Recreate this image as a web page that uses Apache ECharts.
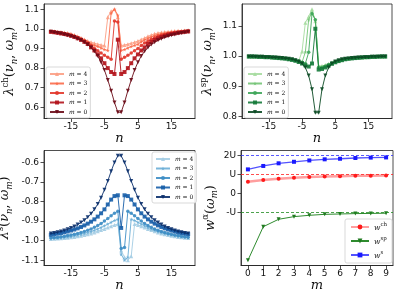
<!DOCTYPE html>
<html><head><meta charset="utf-8">
<script src="https://cdn.jsdelivr.net/npm/echarts@6/dist/echarts.min.js"></script>
<style>html,body{margin:0;padding:0;background:#fff}#c{width:398px;height:294px}</style>
</head><body><div id="c"></div>
<script>
// ---------- data ----------
const nValues = [-21,-20,-19,-18,-17,-16,-15,-14,-13,-12,-11,-10,-9,-8,-7,-6,-5,-4,-3,-2,-1,0,1,2,3,4,5,6,7,8,9,10,11,12,13,14,15,16,17,18,19,20];
const nTicks = [-15,-5,5,15];
const mLabels = ['4','3','2','1','0'];

const ch0 = [0.985,0.982,0.979,0.976,0.972,0.968,0.963,0.957,0.95,0.942,0.932,0.92,0.905,0.886,0.862,0.83,0.79,0.74,0.685,0.625,0.575,0.575,0.625,0.685,0.74,0.79,0.83,0.862,0.886,0.905,0.92,0.932,0.942,0.95,0.957,0.963,0.968,0.972,0.976,0.979,0.982,0.985];
const ch1 = [0.985,0.983,0.98,0.977,0.974,0.97,0.965,0.959,0.952,0.944,0.934,0.923,0.906,0.89,0.87,0.85,0.825,0.80,0.78,0.77,0.945,0.77,0.78,0.80,0.825,0.85,0.87,0.89,0.906,0.923,0.934,0.944,0.952,0.959,0.965,0.97,0.974,0.977,0.98,0.983,0.985,0.987];
const ch2 = [0.986,0.984,0.982,0.979,0.976,0.972,0.968,0.962,0.955,0.947,0.938,0.928,0.915,0.9,0.889,0.877,0.865,0.855,0.845,1.04,1.035,0.845,0.855,0.865,0.877,0.889,0.9,0.915,0.928,0.938,0.947,0.955,0.962,0.968,0.972,0.976,0.979,0.982,0.984,0.986,0.988,0.989];
const ch3 = [0.987,0.985,0.983,0.981,0.978,0.975,0.971,0.966,0.959,0.952,0.944,0.934,0.922,0.916,0.91,0.903,0.895,0.89,1.08,1.10,1.07,0.89,0.895,0.903,0.91,0.916,0.922,0.934,0.944,0.952,0.959,0.966,0.971,0.975,0.978,0.981,0.983,0.985,0.987,0.988,0.989,0.99];
const ch4 = [0.989,0.988,0.986,0.984,0.982,0.979,0.975,0.969,0.962,0.954,0.946,0.938,0.932,0.927,0.922,0.918,0.915,1.06,1.09,1.10,1.06,0.915,0.918,0.922,0.927,0.932,0.938,0.946,0.954,0.962,0.969,0.975,0.979,0.982,0.984,0.986,0.988,0.989,0.99,0.991,0.992,0.993];

const sp0 = [0.998,0.998,0.997,0.997,0.997,0.996,0.996,0.995,0.995,0.994,0.993,0.992,0.991,0.989,0.986,0.982,0.975,0.962,0.935,0.89,0.812,0.812,0.89,0.935,0.962,0.975,0.982,0.986,0.989,0.991,0.992,0.993,0.994,0.995,0.995,0.996,0.996,0.997,0.997,0.997,0.998,0.998];
const sp1 = [0.998,0.998,0.998,0.997,0.997,0.996,0.996,0.995,0.994,0.993,0.992,0.991,0.989,0.987,0.984,0.98,0.975,0.969,0.965,0.975,1.09,0.955,0.957,0.962,0.968,0.974,0.979,0.983,0.986,0.989,0.991,0.992,0.993,0.994,0.995,0.996,0.996,0.997,0.997,0.998,0.998,0.998];
const sp2 = [0.998,0.998,0.998,0.997,0.997,0.997,0.996,0.995,0.995,0.994,0.993,0.992,0.99,0.988,0.986,0.983,0.979,0.975,1.012,1.14,1.12,0.962,0.962,0.966,0.971,0.976,0.98,0.984,0.987,0.989,0.991,0.992,0.993,0.994,0.995,0.996,0.996,0.997,0.997,0.998,0.998,0.998];
const sp3 = [0.998,0.998,0.998,0.998,0.997,0.997,0.996,0.996,0.995,0.994,0.993,0.992,0.99,0.988,0.986,0.983,0.979,1.013,1.12,1.145,1.12,0.965,0.965,0.968,0.972,0.977,0.981,0.984,0.987,0.99,0.991,0.993,0.994,0.995,0.995,0.996,0.997,0.997,0.998,0.998,0.998,0.999];
const sp4 = [0.999,0.998,0.998,0.998,0.997,0.997,0.997,0.996,0.995,0.995,0.994,0.993,0.991,0.989,0.987,0.983,1.015,1.11,1.13,1.155,1.115,0.968,0.967,0.97,0.974,0.978,0.982,0.985,0.988,0.99,0.992,0.993,0.994,0.995,0.996,0.996,0.997,0.997,0.998,0.998,0.999,0.999];

const s0 = [-0.964,-0.961,-0.957,-0.953,-0.948,-0.942,-0.935,-0.927,-0.918,-0.907,-0.895,-0.88,-0.862,-0.84,-0.813,-0.78,-0.74,-0.695,-0.645,-0.60,-0.566,-0.566,-0.60,-0.645,-0.695,-0.74,-0.78,-0.813,-0.84,-0.862,-0.88,-0.895,-0.907,-0.918,-0.927,-0.935,-0.942,-0.948,-0.953,-0.957,-0.961,-0.964];
const s1 = [-0.97,-0.967,-0.964,-0.961,-0.957,-0.953,-0.948,-0.943,-0.937,-0.93,-0.922,-0.913,-0.903,-0.891,-0.877,-0.86,-0.84,-0.815,-0.79,-0.772,-0.768,-0.935,-0.768,-0.772,-0.79,-0.815,-0.84,-0.86,-0.877,-0.891,-0.903,-0.913,-0.922,-0.93,-0.937,-0.943,-0.948,-0.953,-0.957,-0.961,-0.964,-0.967];
const s2 = [-0.985,-0.984,-0.982,-0.98,-0.977,-0.974,-0.971,-0.967,-0.963,-0.958,-0.953,-0.947,-0.94,-0.932,-0.923,-0.912,-0.9,-0.887,-0.873,-0.86,-0.85,-1.04,-1.035,-0.85,-0.86,-0.873,-0.887,-0.9,-0.912,-0.923,-0.932,-0.94,-0.947,-0.953,-0.958,-0.963,-0.967,-0.971,-0.974,-0.977,-0.98,-0.982];
const s3 = [-0.989,-0.988,-0.987,-0.985,-0.983,-0.981,-0.978,-0.975,-0.971,-0.967,-0.963,-0.958,-0.953,-0.947,-0.94,-0.932,-0.924,-0.915,-0.906,-0.897,-0.89,-1.07,-1.10,-1.085,-0.89,-0.897,-0.906,-0.915,-0.924,-0.932,-0.94,-0.947,-0.953,-0.958,-0.963,-0.967,-0.971,-0.975,-0.978,-0.981,-0.983,-0.985];
const s4 = [-0.991,-0.99,-0.989,-0.988,-0.987,-0.985,-0.983,-0.981,-0.978,-0.975,-0.971,-0.967,-0.963,-0.958,-0.952,-0.946,-0.94,-0.933,-0.926,-0.92,-0.915,-1.05,-1.085,-1.10,-1.08,-0.915,-0.92,-0.926,-0.933,-0.94,-0.946,-0.952,-0.958,-0.963,-0.967,-0.971,-0.975,-0.978,-0.981,-0.983,-0.985,-0.987];

const chTicksY = [0.6,0.7,0.8,0.9,1.0,1.1];
const spTicksY = [0.8,0.9,1.0,1.1];
const sTicksY = [-1.1,-1.0,-0.9,-0.8,-0.7,-0.6];

const mValues = [0,1,2,3,4,5,6,7,8,9];
const wCh = [0.63,0.72,0.79,0.84,0.88,0.90,0.92,0.94,0.945,0.955];
const wSp = [-3.51,-1.74,-1.35,-1.21,-1.14,-1.09,-1.07,-1.05,-1.04,-1.03];
const wS  = [1.28,1.46,1.60,1.68,1.75,1.81,1.84,1.88,1.90,1.91];
const wTickValues = [-1,0,1,2];
const wTickLabels = ['-U','0','U','2U'];
const wRefCh = 1, wRefSp = -1, wRefS = 2;

// ---------- styling ----------
const AX = '#222';
const tickFont = {fontSize:9, color:'#111', fontFamily:'DejaVu Sans'};
const mathRich = {
  a:{fontFamily:'DejaVu Serif', fontStyle:'italic', fontSize:13, lineHeight:18, color:'#111', verticalAlign:'middle'},
  r:{fontFamily:'DejaVu Serif', fontSize:13, lineHeight:18, color:'#111', verticalAlign:'middle'},
  sup:{fontFamily:'DejaVu Serif', fontSize:8.5, lineHeight:11, color:'#111', verticalAlign:'top'},
  sub:{fontFamily:'DejaVu Serif', fontStyle:'italic', fontSize:8.5, lineHeight:11, color:'#111', verticalAlign:'bottom'}
};
const downTri = 'path://M0,0 L10,0 L5,10 Z';
const star = 'path://M5,0 L6.2,3.8 L10,3.8 L6.9,6.1 L8.1,10 L5,7.6 L1.9,10 L3.1,6.1 L0,3.8 L3.8,3.8 Z';
const symbols = ['triangle', star, 'circle', 'rect', downTri];
const redC = ['#fc9f84','#fb6a4a','#e2372b','#b3131b','#6a0a16'];
const greenC = ['#a6dca0','#74c476','#3fa65a','#157a3a','#0b4a23'];
const blueC = ['#a3cce3','#6baed6','#3d8dc4','#175ea8','#0a2f6b'];

const grids = [
  {left:44, top:4, width:151, height:114.5},
  {left:242, top:4, width:150, height:114.5},
  {left:44, top:150.5, width:151, height:115},
  {left:241, top:150.5, width:152, height:115}
].map(g => Object.assign(g, {show:true, borderColor:AX, borderWidth:0.8, containLabel:false, outerBoundsMode:'none'}));

function nAxis(gi){
  return {type:'value', gridIndex:gi, min:-23.05, max:22.05,
    axisLine:{show:true, onZero:false, lineStyle:{color:AX, width:0.8}},
    axisTick:{show:true, customValues:nTicks, length:3.5, lineStyle:{color:AX, width:0.8}},
    axisLabel:Object.assign({customValues:nTicks, margin:4}, tickFont),
    splitLine:{show:false},
    name:'n', nameLocation:'middle', nameGap:9,
    nameTextStyle:{fontFamily:'DejaVu Serif', fontStyle:'italic', fontSize:13, color:'#111'}};
}
function valAxis(gi, min, max, ticks, name, gap){
  return {type:'value', gridIndex:gi, min, max,
    axisLine:{show:true, onZero:false, lineStyle:{color:AX, width:0.8}},
    axisTick:{show:true, customValues:ticks, length:3.5, lineStyle:{color:AX, width:0.8}},
    axisLabel:Object.assign({customValues:ticks, margin:5, formatter:v=>v.toFixed(1)}, tickFont),
    splitLine:{show:false},
    name, nameLocation:'middle', nameRotate:90, nameGap:gap,
    nameTextStyle:{rich:mathRich}};
}
function lamSeries(prefix, arrs, colors, gi){
  return arrs.map((arr, j) => ({
    type:'line', name:prefix + mLabels[j], xAxisIndex:gi, yAxisIndex:gi,
    data:nValues.map((n,i)=>[n, arr[i]]),
    symbol:symbols[j], symbolSize:j===2?3.5:4, showSymbol:true,
    lineStyle:{width:1, color:colors[j], opacity:0.9},
    itemStyle:{color:colors[j], opacity:0.9},
    z:2+j
  }));
}
function lamLegend(prefix, left, top){
  return {orient:'vertical', left, top, itemWidth:14, itemHeight:5, itemGap:1.5,
    padding:[3,3,2,3], borderColor:'#cfcfcf', borderWidth:0.8, borderRadius:2,
    backgroundColor:'rgba(255,255,255,0.85)',
    data:mLabels.map(m=>prefix+m),
    formatter:name=>'{i|m} = ' + name.slice(-1),
    textStyle:{fontSize:6, lineHeight:8, color:'#111', fontFamily:'DejaVu Serif',
      rich:{i:{fontFamily:'DejaVu Serif', fontStyle:'italic', fontSize:6, lineHeight:8}}}};
}

const series = [].concat(
  lamSeries('ch', [ch4,ch3,ch2,ch1,ch0], redC, 0),
  lamSeries('sp', [sp4,sp3,sp2,sp1,sp0], greenC, 1),
  lamSeries('s', [s4,s3,s2,s1,s0], blueC, 2),
  [
    {type:'line', name:'wch', xAxisIndex:3, yAxisIndex:3, data:mValues.map((m,i)=>[m,wCh[i]]),
     symbol:'circle', symbolSize:4, lineStyle:{width:2.5, color:'rgba(255,40,40,0.45)'}, itemStyle:{color:'#ff1a1a'},
     markLine:{silent:true, symbol:'none', label:{show:false}, lineStyle:{color:'#ff2020', type:[3,2], width:0.8}, data:[{yAxis:wRefCh}]}},
    {type:'line', name:'wsp', xAxisIndex:3, yAxisIndex:3, data:mValues.map((m,i)=>[m,wSp[i]]),
     symbol:downTri, symbolSize:4, lineStyle:{width:1, color:'#2e8b2e'}, itemStyle:{color:'#1f7a1f'},
     markLine:{silent:true, symbol:'none', label:{show:false}, lineStyle:{color:'#1f8a1f', type:[3,2], width:0.8}, data:[{yAxis:wRefSp}]}},
    {type:'line', name:'ws', xAxisIndex:3, yAxisIndex:3, data:mValues.map((m,i)=>[m,wS[i]]),
     symbol:'rect', symbolSize:4, lineStyle:{width:1.3, color:'rgba(40,40,255,0.8)'}, itemStyle:{color:'#1a1aff'},
     markLine:{silent:true, symbol:'none', label:{show:false}, lineStyle:{color:'#3030ff', type:[3,2], width:0.8}, data:[{yAxis:wRefS}]}}
  ]
);

const wSupNames = {wch:'ch', wsp:'sp', ws:'s'};
const option = {
  animation:false,
  backgroundColor:'#fff',
  grid:grids,
  xAxis:[nAxis(0), nAxis(1), nAxis(2),
    {type:'value', gridIndex:3, min:-0.45, max:9.45,
     axisLine:{show:true, onZero:false, lineStyle:{color:AX, width:0.8}},
     axisTick:{show:true, customValues:mValues, length:3.5, lineStyle:{color:AX, width:0.8}},
     axisLabel:Object.assign({customValues:mValues, margin:4}, tickFont),
     splitLine:{show:false},
     name:'m', nameLocation:'middle', nameGap:10,
     nameTextStyle:{fontFamily:'DejaVu Serif', fontStyle:'italic', fontSize:13, color:'#111'}}],
  yAxis:[
    valAxis(0, 0.543, 1.127, chTicksY, '{a|λ}{sup|ch}{r|(}{a|ν}{sub|n}{r|, }{a|ω}{sub|m}{r|)}', 25),
    valAxis(1, 0.793, 1.172, spTicksY, '{a|λ}{sup|sp}{r|(}{a|ν}{sub|n}{r|, }{a|ω}{sub|m}{r|)}', 25),
    valAxis(2, -1.127, -0.539, sTicksY, '{a|λ}{sup|s}{r|(}{a|ν}{sub|n}{r|, }{a|ω\u0303}{sub|m}{r|)}', 30),
    {type:'value', gridIndex:3, min:-3.785, max:2.275,
     axisLine:{show:true, onZero:false, lineStyle:{color:AX, width:0.8}},
     axisTick:{show:true, customValues:wTickValues, length:3.5, lineStyle:{color:AX, width:0.8}},
     axisLabel:Object.assign({customValues:wTickValues, margin:5,
       formatter:v=>wTickLabels[wTickValues.indexOf(Math.round(v))]}, tickFont),
     splitLine:{show:false},
     name:'{a|w}{sup|α}{r|(}{a|ω}{sub|m}{r|)}', nameLocation:'middle', nameRotate:90, nameGap:21,
     nameTextStyle:{rich:mathRich}}
  ],
  legend:[
    lamLegend('ch', 46, 67),
    lamLegend('sp', 244, 67),
    lamLegend('s', 152, 152),
    {orient:'vertical', left:345, top:219, itemWidth:18, itemHeight:6, itemGap:4,
     padding:[3,5,3,5], borderColor:'#cfcfcf', borderWidth:0.8, borderRadius:2,
     backgroundColor:'rgba(255,255,255,0.85)',
     data:['wch','wsp','ws'],
     formatter:name=>'{i|w}{sup|' + wSupNames[name] + '}',
     textStyle:{color:'#111', rich:{
       i:{fontFamily:'DejaVu Serif', fontStyle:'italic', fontSize:7.5, lineHeight:10, verticalAlign:'bottom'},
       sup:{fontFamily:'DejaVu Serif', fontSize:5.5, lineHeight:10, verticalAlign:'top'}}}}
  ],
  series
};
const chart = echarts.init(document.getElementById('c'), null, {renderer:'canvas'});
chart.setOption(option);
</script>
</body></html>
